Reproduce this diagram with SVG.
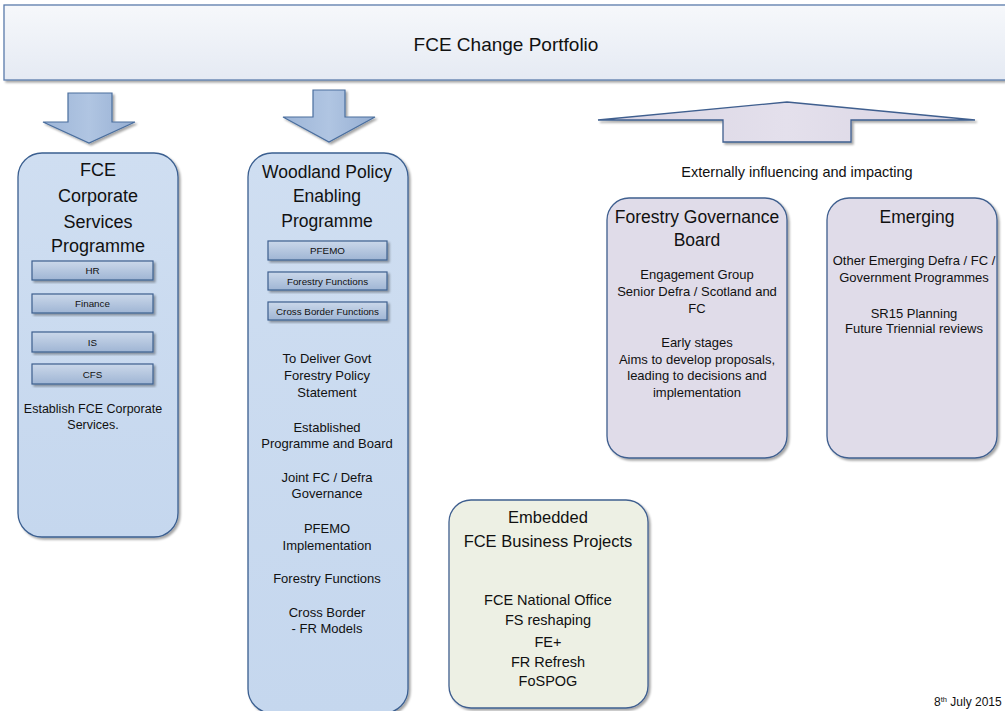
<svg xmlns="http://www.w3.org/2000/svg" width="1005" height="711" viewBox="0 0 1005 711">
<style>
text{font-family:"Liberation Sans",Arial,sans-serif;fill:#111;text-anchor:middle}
.ttl{font-size:18px}
.body{font-size:13px}
.sub{font-size:9.8px}
.blue{fill:url(#gBlue);stroke:#3b5f90;stroke-width:1.3}
.purple{fill:#e0dce9;stroke:#3f5f8f;stroke-width:1.3}
.green{fill:#edf0e4;stroke:#3f5f8f;stroke-width:1.3}
.subbox{fill:url(#gSub);stroke:#3d5f8e;stroke-width:1.2}
.arrow{fill:url(#gArrow);stroke:#4a6e9e;stroke-width:1.2}
</style>
<defs>
<linearGradient id="gTop" x1="0" y1="0" x2="0" y2="1"><stop offset="0" stop-color="#f6f8fb"/><stop offset="1" stop-color="#e5eaf3"/></linearGradient>
<linearGradient id="gBlue" x1="0" y1="0" x2="0" y2="1"><stop offset="0" stop-color="#cfdef1"/><stop offset="1" stop-color="#c5d7ee"/></linearGradient>
<linearGradient id="gSub" x1="0" y1="0" x2="0" y2="1"><stop offset="0" stop-color="#cbd8ea"/><stop offset="1" stop-color="#9fb5d4"/></linearGradient>
<linearGradient id="gArrow" x1="0" y1="0" x2="1" y2="0"><stop offset="0" stop-color="#9db5d7"/><stop offset="0.5" stop-color="#b0c5e2"/><stop offset="1" stop-color="#95aed2"/></linearGradient>
<linearGradient id="gPurp" x1="0" y1="0" x2="1" y2="0"><stop offset="0" stop-color="#d8d3e2"/><stop offset="0.5" stop-color="#e4e0ec"/><stop offset="1" stop-color="#d8d3e2"/></linearGradient>
<filter id="sh" x="-10%" y="-10%" width="130%" height="130%"><feDropShadow dx="2" dy="2" stdDeviation="1.2" flood-color="#000" flood-opacity="0.35"/></filter>
</defs>
<rect width="1005" height="711" fill="#fff"/>

<g id="portfolio">
<rect x="4" y="5" width="1006" height="75" fill="url(#gTop)" stroke="#5b7bab" stroke-width="1.3" filter="url(#sh)"/>
<text x="506" y="51" style="font-size:19px">FCE Change Portfolio</text>
</g>

<g id="connectors">
<polygon class="arrow" filter="url(#sh)" points="68,93 112,93 112,122 135,122 89,143 43,122 68,122"/>
<polygon class="arrow" filter="url(#sh)" points="313,90 345,90 345,117 375,117 329,142 283,117 313,117"/>
<polygon fill="url(#gPurp)" stroke="#3f5f8f" stroke-width="1.3" filter="url(#sh)" points="598,120 787,102 975,120 851,120 851,142 723,142 723,120"/>
</g>

<g id="external-label">
<text x="797" y="177" style="font-size:14.5px">Externally influencing and impacting</text>
</g>

<g id="corporate">
<rect class="blue" x="18" y="153" width="160" height="384" rx="24" filter="url(#sh)"/>
<text class="ttl" x="98" y="176">FCE</text>
<text class="ttl" x="98" y="202">Corporate</text>
<text class="ttl" x="98" y="228">Services</text>
<text class="ttl" x="98" y="252">Programme</text>
<rect class="subbox" x="32" y="261" width="121" height="19" filter="url(#sh)"/>
<text class="sub" x="92.5" y="274">HR</text>
<rect class="subbox" x="32" y="294" width="121" height="19" filter="url(#sh)"/>
<text class="sub" x="92.5" y="307">Finance</text>
<rect class="subbox" x="32" y="332" width="121" height="20" filter="url(#sh)"/>
<text class="sub" x="92.5" y="345.5">IS</text>
<rect class="subbox" x="32" y="364" width="121" height="20" filter="url(#sh)"/>
<text class="sub" x="92.5" y="377.5">CFS</text>
<text x="93" y="413" style="font-size:12.5px">Establish FCE Corporate</text>
<text x="93" y="429" style="font-size:12.5px">Services.</text>
</g>

<g id="woodland">
<rect class="blue" x="248" y="153" width="160" height="560" rx="24" filter="url(#sh)"/>
<text class="ttl" x="327" y="178" style="font-size:17.5px">Woodland Policy</text>
<text class="ttl" x="327" y="202" style="font-size:17.5px">Enabling</text>
<text class="ttl" x="327" y="227" style="font-size:17.5px">Programme</text>
<rect class="subbox" x="268" y="241" width="119" height="19" filter="url(#sh)"/>
<text class="sub" x="327.5" y="254">PFEMO</text>
<rect class="subbox" x="268" y="272" width="119" height="18" filter="url(#sh)"/>
<text class="sub" x="327.5" y="284.5">Forestry Functions</text>
<rect class="subbox" x="268" y="302" width="119" height="18" filter="url(#sh)"/>
<text class="sub" x="327.5" y="314.5">Cross Border Functions</text>
<text class="body" x="327" y="362.5">To Deliver Govt</text>
<text class="body" x="327" y="379.5">Forestry Policy</text>
<text class="body" x="327" y="396.5">Statement</text>
<text class="body" x="327" y="431.5">Established</text>
<text class="body" x="327" y="447.5">Programme and Board</text>
<text class="body" x="327" y="481.5">Joint FC / Defra</text>
<text class="body" x="327" y="497.5">Governance</text>
<text class="body" x="327" y="532.5">PFEMO</text>
<text class="body" x="327" y="549.5">Implementation</text>
<text class="body" x="327" y="582.5">Forestry Functions</text>
<text class="body" x="327" y="616.5">Cross Border</text>
<text class="body" x="327" y="632.5">- FR Models</text>
</g>

<g id="governance">
<rect class="purple" x="607" y="198" width="180" height="260" rx="22" filter="url(#sh)"/>
<text class="ttl" x="697" y="223" style="font-size:17.5px">Forestry Governance</text>
<text class="ttl" x="697" y="246" style="font-size:17.5px">Board</text>
<text class="body" x="697" y="278.5">Engagement Group</text>
<text class="body" x="697" y="295.5">Senior Defra / Scotland and</text>
<text class="body" x="697" y="312.5">FC</text>
<text class="body" x="697" y="346.5">Early stages</text>
<text class="body" x="697" y="363.5">Aims to develop proposals,</text>
<text class="body" x="697" y="379.5">leading to decisions and</text>
<text class="body" x="697" y="396.5">implementation</text>
</g>

<g id="emerging">
<rect class="purple" x="827" y="198" width="170" height="260" rx="22" filter="url(#sh)"/>
<text class="ttl" x="917" y="223" style="font-size:17.5px">Emerging</text>
<text class="body" x="914" y="264.5">Other Emerging Defra / FC /</text>
<text class="body" x="914" y="281.5">Government Programmes</text>
<text class="body" x="914" y="317.5">SR15 Planning</text>
<text class="body" x="914" y="332.5">Future Triennial reviews</text>
</g>

<g id="embedded">
<rect class="green" x="449" y="500" width="199" height="208" rx="22" filter="url(#sh)"/>
<text x="548" y="523" style="font-size:16.5px">Embedded</text>
<text x="548" y="547" style="font-size:16.5px">FCE Business Projects</text>
<text x="548" y="605" style="font-size:14.5px">FCE National Office</text>
<text x="548" y="625" style="font-size:14.5px">FS reshaping</text>
<text x="548" y="647" style="font-size:14.5px">FE+</text>
<text x="548" y="667" style="font-size:14.5px">FR Refresh</text>
<text x="548" y="686" style="font-size:14.5px">FoSPOG</text>
</g>

<g id="date">
<text x="934" y="706" style="font-size:12px;text-anchor:start">8<tspan dy="-4" style="font-size:7.5px">th</tspan><tspan dy="4"> July 2015</tspan></text>
</g>
</svg>
